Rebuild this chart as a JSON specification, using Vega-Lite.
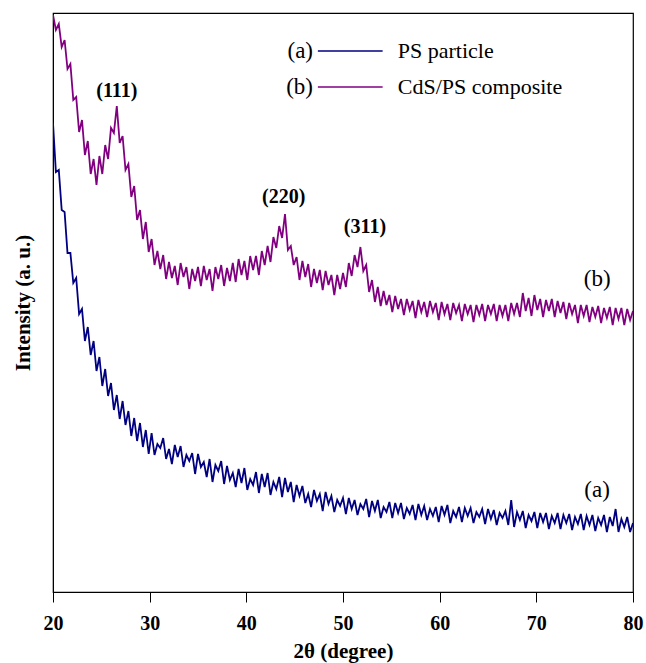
{
  "$schema": "https://vega.github.io/schema/vega-lite/v6.json",
  "width": 580,
  "height": 579,
  "autosize": {"type": "none"},
  "padding": {"left": 53, "top": 13, "right": 13, "bottom": 71},
  "background": "white",
  "config": {"view": {"stroke": "#000", "strokeWidth": 1.2}, "font": "Liberation Serif"},
  "encoding": {
    "x": {"field": "t", "type": "quantitative",
      "scale": {"domain": [20, 80], "nice": false, "zero": false},
      "axis": {"values": [20, 30, 40, 50, 60, 70, 80], "grid": false, "tickSize": 10, "tickColor": "#000", "domainColor": "#000",
        "labelFont": "Liberation Serif", "labelFontSize": 20, "labelFontWeight": "bold", "labelColor": "#000", "labelPadding": 11, "labelFlush": false,
        "title": "2θ (degree)", "titleFont": "Liberation Serif", "titleFontSize": 21, "titleFontWeight": "bold", "titleColor": "#000", "titlePadding": 7}},
    "y": {"field": "i", "type": "quantitative",
      "scale": {"domain": [3, 582], "nice": false, "zero": false},
      "axis": {"labels": false, "ticks": false, "grid": false, "domainColor": "#000",
        "title": "Intensity (a. u.)", "titleFont": "Liberation Serif", "titleFontSize": 21, "titleFontWeight": "bold", "titleColor": "#000", "titlePadding": 20}}
  },
  "layer": [
    {
      "data": {"values": [
        {"t":20.0,"a":472,"b":580},{"t":20.3,"a":423,"b":565},{"t":20.6,"a":425,"b":571},{"t":20.9,"a":385,"b":548},{"t":21.2,"a":383,"b":555},
        {"t":21.5,"a":342,"b":526},{"t":21.8,"a":342,"b":531},{"t":22.1,"a":312,"b":495},{"t":22.4,"a":317,"b":498},{"t":22.7,"a":281,"b":463},
        {"t":23.0,"a":286,"b":475},{"t":23.3,"a":254,"b":440},{"t":23.6,"a":268,"b":454},{"t":23.9,"a":240,"b":421},{"t":24.2,"a":254,"b":436},
        {"t":24.5,"a":224,"b":410},{"t":24.8,"a":238,"b":439},{"t":25.1,"a":209,"b":421},{"t":25.4,"a":226,"b":450},{"t":25.7,"a":199,"b":436},
        {"t":26.0,"a":212,"b":467},{"t":26.3,"a":185,"b":462},{"t":26.6,"a":200,"b":489},{"t":26.9,"a":176,"b":452},{"t":27.2,"a":194,"b":459},
        {"t":27.5,"a":170,"b":425},{"t":27.8,"a":184,"b":431},{"t":28.1,"a":159,"b":398},{"t":28.4,"a":177,"b":409},{"t":28.7,"a":154,"b":375},
        {"t":29.0,"a":172,"b":385},{"t":29.3,"a":148,"b":356},{"t":29.6,"a":165,"b":373},{"t":29.9,"a":141,"b":343},{"t":30.2,"a":162,"b":356},
        {"t":30.5,"a":140,"b":330},{"t":30.8,"a":151,"b":344},{"t":31.1,"a":147,"b":326},{"t":31.4,"a":157,"b":340},{"t":31.7,"a":136,"b":316},
        {"t":32.0,"a":146,"b":333},{"t":32.3,"a":131,"b":317},{"t":32.6,"a":150,"b":329},{"t":32.9,"a":138,"b":310},{"t":33.2,"a":149,"b":332},
        {"t":33.5,"a":128,"b":318},{"t":33.8,"a":140,"b":328},{"t":34.1,"a":134,"b":306},{"t":34.4,"a":142,"b":326},{"t":34.7,"a":121,"b":314},
        {"t":35.0,"a":141,"b":328},{"t":35.3,"a":128,"b":309},{"t":35.6,"a":133,"b":329},{"t":35.9,"a":118,"b":315},{"t":36.2,"a":136,"b":326},
        {"t":36.5,"a":113,"b":304},{"t":36.8,"a":130,"b":328},{"t":37.1,"a":124,"b":316},{"t":37.4,"a":134,"b":330},{"t":37.7,"a":111,"b":309},
        {"t":38.0,"a":129,"b":327},{"t":38.3,"a":115,"b":314},{"t":38.6,"a":122,"b":332},{"t":38.9,"a":108,"b":313},{"t":39.2,"a":126,"b":336},
        {"t":39.5,"a":112,"b":320},{"t":39.8,"a":127,"b":334},{"t":40.1,"a":105,"b":315},{"t":40.4,"a":116,"b":339},{"t":40.7,"a":110,"b":325},
        {"t":41.0,"a":123,"b":339},{"t":41.3,"a":102,"b":320},{"t":41.6,"a":121,"b":344},{"t":41.9,"a":108,"b":330},{"t":42.2,"a":122,"b":349},
        {"t":42.5,"a":100,"b":333},{"t":42.8,"a":113,"b":358},{"t":43.1,"a":106,"b":347},{"t":43.4,"a":118,"b":369},{"t":43.7,"a":98,"b":357},
        {"t":44.0,"a":117,"b":381},{"t":44.3,"a":103,"b":345},{"t":44.6,"a":113,"b":349},{"t":44.9,"a":93,"b":330},{"t":45.2,"a":110,"b":338},
        {"t":45.5,"a":99,"b":315},{"t":45.8,"a":109,"b":334},{"t":46.1,"a":92,"b":318},{"t":46.4,"a":101,"b":331},{"t":46.7,"a":88,"b":308},
        {"t":47.0,"a":105,"b":326},{"t":47.3,"a":94,"b":312},{"t":47.6,"a":101,"b":325},{"t":47.9,"a":84,"b":305},{"t":48.2,"a":103,"b":324},
        {"t":48.5,"a":91,"b":310},{"t":48.8,"a":99,"b":320},{"t":49.1,"a":83,"b":300},{"t":49.4,"a":95,"b":320},{"t":49.7,"a":89,"b":306},
        {"t":50.0,"a":97,"b":322},{"t":50.3,"a":81,"b":308},{"t":50.6,"a":97,"b":332},{"t":50.9,"a":86,"b":319},{"t":51.2,"a":95,"b":340},
        {"t":51.5,"a":80,"b":328},{"t":51.8,"a":91,"b":348},{"t":52.1,"a":86,"b":324},{"t":52.4,"a":96,"b":330},{"t":52.7,"a":78,"b":303},
        {"t":53.0,"a":94,"b":315},{"t":53.3,"a":84,"b":293},{"t":53.6,"a":95,"b":308},{"t":53.9,"a":77,"b":289},{"t":54.2,"a":88,"b":304},
        {"t":54.5,"a":83,"b":290},{"t":54.8,"a":93,"b":300},{"t":55.1,"a":77,"b":283},{"t":55.4,"a":92,"b":299},{"t":55.7,"a":82,"b":286},
        {"t":56.0,"a":92,"b":296},{"t":56.3,"a":76,"b":280},{"t":56.6,"a":87,"b":296},{"t":56.9,"a":81,"b":285},{"t":57.2,"a":90,"b":294},
        {"t":57.5,"a":75,"b":277},{"t":57.8,"a":91,"b":295},{"t":58.1,"a":80,"b":283},{"t":58.4,"a":89,"b":293},{"t":58.7,"a":75,"b":278},
        {"t":59.0,"a":86,"b":294},{"t":59.3,"a":79,"b":283},{"t":59.6,"a":88,"b":292},{"t":59.9,"a":73,"b":275},{"t":60.2,"a":89,"b":293},
        {"t":60.5,"a":80,"b":281},{"t":60.8,"a":90,"b":291},{"t":61.1,"a":72,"b":275},{"t":61.4,"a":84,"b":292},{"t":61.7,"a":78,"b":282},
        {"t":62.0,"a":88,"b":290},{"t":62.3,"a":73,"b":274},{"t":62.6,"a":87,"b":291},{"t":62.9,"a":79,"b":281},{"t":63.2,"a":87,"b":290},
        {"t":63.5,"a":72,"b":273},{"t":63.8,"a":83,"b":290},{"t":64.1,"a":78,"b":280},{"t":64.4,"a":86,"b":291},{"t":64.7,"a":71,"b":274},
        {"t":65.0,"a":86,"b":290},{"t":65.3,"a":76,"b":281},{"t":65.6,"a":85,"b":291},{"t":65.9,"a":70,"b":274},{"t":66.2,"a":82,"b":290},
        {"t":66.5,"a":77,"b":279},{"t":66.8,"a":84,"b":290},{"t":67.1,"a":70,"b":274},{"t":67.4,"a":95,"b":292},{"t":67.7,"a":68,"b":281},
        {"t":68.0,"a":83,"b":292},{"t":68.3,"a":75,"b":278},{"t":68.6,"a":84,"b":302},{"t":68.9,"a":67,"b":284},{"t":69.2,"a":80,"b":297},
        {"t":69.5,"a":74,"b":279},{"t":69.8,"a":83,"b":300},{"t":70.1,"a":67,"b":285},{"t":70.4,"a":82,"b":296},{"t":70.7,"a":73,"b":278},
        {"t":71.0,"a":82,"b":295},{"t":71.3,"a":66,"b":284},{"t":71.6,"a":79,"b":296},{"t":71.9,"a":72,"b":278},{"t":72.2,"a":82,"b":294},
        {"t":72.5,"a":66,"b":282},{"t":72.8,"a":80,"b":293},{"t":73.1,"a":72,"b":276},{"t":73.4,"a":81,"b":292},{"t":73.7,"a":65,"b":281},
        {"t":74.0,"a":78,"b":290},{"t":74.3,"a":71,"b":272},{"t":74.6,"a":81,"b":290},{"t":74.9,"a":65,"b":279},{"t":75.2,"a":79,"b":290},
        {"t":75.5,"a":70,"b":273},{"t":75.8,"a":80,"b":288},{"t":76.1,"a":64,"b":278},{"t":76.4,"a":77,"b":289},{"t":76.7,"a":70,"b":272},
        {"t":77.0,"a":80,"b":287},{"t":77.3,"a":63,"b":277},{"t":77.6,"a":78,"b":288},{"t":77.9,"a":69,"b":270},{"t":78.2,"a":86,"b":287},
        {"t":78.5,"a":63,"b":276},{"t":78.8,"a":76,"b":287},{"t":79.1,"a":68,"b":270},{"t":79.4,"a":78,"b":286},{"t":79.7,"a":63,"b":275},
        {"t":80.0,"a":72,"b":284}
      ]},
      "transform": [{"fold": ["a", "b"], "as": ["key", "i"]}],
      "mark": {"type": "line", "strokeWidth": 1.8, "clip": true},
      "encoding": {
        "color": {"field": "key", "type": "nominal", "scale": {"domain": ["a", "b"], "range": ["#000080", "#800080"]}, "legend": null},
        "order": {"field": "t", "type": "quantitative"}
      }
    },
    {
      "data": {"values": [
        {"key": "a", "t": 47.4, "t2": 54.1, "i": 544},
        {"key": "b", "t": 47.4, "t2": 54.1, "i": 508}
      ]},
      "mark": {"type": "rule", "strokeWidth": 1.3},
      "encoding": {
        "x2": {"field": "t2"},
        "color": {"field": "key", "type": "nominal", "legend": null}
      }
    },
    {
      "data": {"values": [
        {"t": 26.6, "i": 504, "label": "(111)"},
        {"t": 43.87, "i": 398, "label": "(220)"},
        {"t": 52.27, "i": 368, "label": "(311)"}
      ]},
      "mark": {"type": "text", "font": "Liberation Serif", "fontSize": 20, "fontWeight": "bold", "color": "#000", "baseline": "middle", "align": "center"},
      "encoding": {"text": {"field": "label"}}
    },
    {
      "data": {"values": [
        {"t": 76.29, "i": 316, "label": "(b)"},
        {"t": 76.29, "i": 105, "label": "(a)"}
      ]},
      "mark": {"type": "text", "font": "Liberation Serif", "fontSize": 23, "color": "#000", "baseline": "middle", "align": "center"},
      "encoding": {"text": {"field": "label"}}
    },
    {
      "data": {"values": [
        {"t": 46.9, "i": 544, "label": "(a)"},
        {"t": 46.9, "i": 508, "label": "(b)"}
      ]},
      "mark": {"type": "text", "font": "Liberation Serif", "fontSize": 23, "color": "#000", "baseline": "middle", "align": "right"},
      "encoding": {"text": {"field": "label"}}
    },
    {
      "data": {"values": [
        {"t": 55.67, "i": 544, "label": "PS particle"},
        {"t": 55.67, "i": 508, "label": "CdS/PS composite"}
      ]},
      "mark": {"type": "text", "font": "Liberation Serif", "fontSize": 22, "color": "#000", "baseline": "middle", "align": "left"},
      "encoding": {"text": {"field": "label"}}
    }
  ]
}
